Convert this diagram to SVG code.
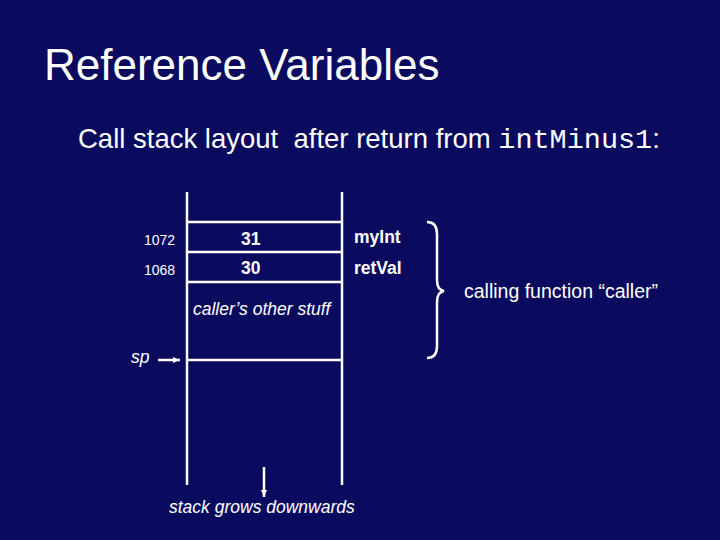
<svg xmlns="http://www.w3.org/2000/svg" width="720" height="540" viewBox="0 0 720 540">
<defs><marker id="ah" markerWidth="8" markerHeight="8" refX="7" refY="4" orient="auto" markerUnits="userSpaceOnUse"><path d="M0,1 L7,4 L0,7 Z" fill="#fff"/></marker></defs>
<style>
text{fill:#fff;font-family:"Liberation Sans",Arial,sans-serif}
.l{stroke:#fff;stroke-width:2.5;fill:none}
.b{font-weight:bold;font-size:17.5px}
.a{font-size:14px}
.i{font-style:italic;font-size:17.5px}
</style>
<rect width="720" height="540" fill="#0a0a5e"/>
<text x="44" y="80" font-size="44">Reference Variables</text>
<text x="78" y="148" font-size="27.5" xml:space="preserve">Call stack layout  after return from <tspan font-family="'Liberation Mono',monospace" font-size="28.5">intMinus1</tspan>:</text>
<g id="stack">
<path class="l" d="M187,192V485M342,192V485M187,222H342M187,252H342M187,282H342M187,360H342"/>
</g>
<g id="cells">
<text class="b" x="241" y="245">31</text>
<text class="b" x="241" y="274">30</text>
<text class="b" x="354" y="243">myInt</text>
<text class="b" x="354" y="274">retVal</text>
<text class="a" x="144" y="245">1072</text>
<text class="a" x="144" y="275">1068</text>
<text class="i" x="193" y="315">caller’s other stuff</text>
<text class="i" x="131" y="363">sp</text>
<text class="i" x="169" y="513">stack grows downwards</text>
<text x="464" y="298" font-size="19.5">calling function “caller”</text>
</g>
<g id="connectors">
<line class="l" x1="158" y1="360" x2="180" y2="360" stroke-width="1.5" marker-end="url(#ah)"/>
<line class="l" x1="264" y1="467" x2="264" y2="497" stroke-width="1.5" marker-end="url(#ah)"/>
<path class="l" d="M427,222Q437,222 437,234V280Q437,290 444,291Q437,292 437,302V346Q437,358 427,358"/>
</g>
</svg>
